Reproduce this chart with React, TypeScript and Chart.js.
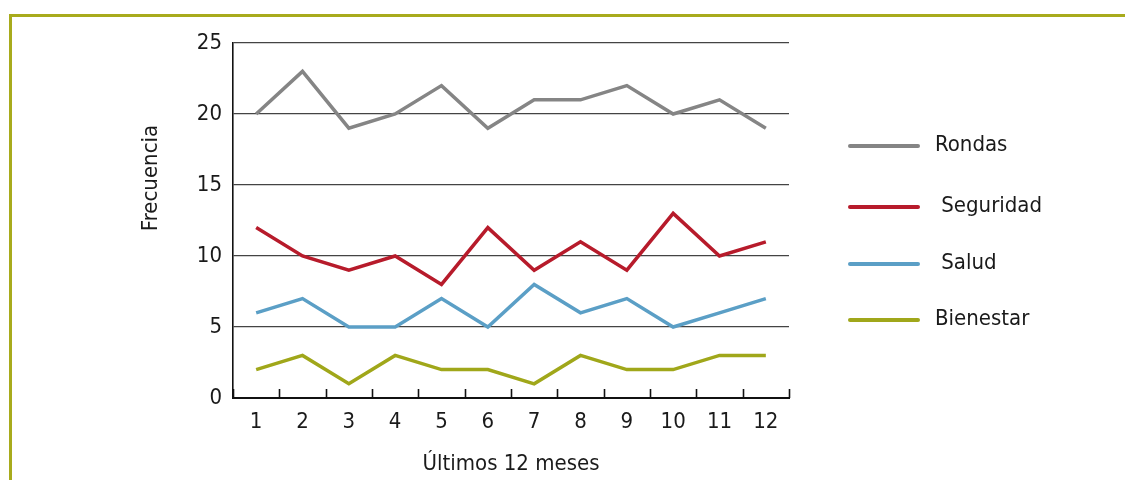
import React, { useEffect, useRef } from "react";
import { Chart, registerables } from "chart.js";

Chart.register(...registerables);

const categories = ["1", "2", "3", "4", "5", "6", "7", "8", "9", "10", "11", "12"];
const seriesNames = ["Rondas", " Seguridad", " Salud", "Bienestar"];
const rondas = [20, 23, 19, 20, 22, 19, 21, 21, 22, 20, 21, 19];
const seguridad = [12, 10, 9, 10, 8, 12, 9, 11, 9, 13, 10, 11];
const salud = [6, 7, 5, 5, 7, 5, 8, 6, 7, 5, 6, 7];
const bienestar = [2, 3, 1, 3, 2, 2, 1, 3, 2, 2, 3, 3];
const seriesColors = ["#858585", "#b71b2b", "#5b9fc6", "#a0a71a"];
const yTicks = [0, 5, 10, 15, 20, 25];
const xTitle = "Últimos 12 meses";
const yTitle = "Frecuencia";

const FONT = '"Liberation Sans Narrow", "DejaVu Sans Condensed", "Roboto Condensed", Roboto, sans-serif';
const TEXT = "#1a1a1a";
const FS = 22;

const decorPlugin = {
  id: "decor",
  beforeDraw(chart: any) {
    const { ctx } = chart;
    ctx.save();
    ctx.fillStyle = "#ffffff";
    ctx.fillRect(0, 0, chart.width, chart.height);
    ctx.fillStyle = "#a8ab1c";
    ctx.fillRect(9, 14, chart.width - 9, 3);
    ctx.fillRect(9, 14, 3, chart.height - 14);
    ctx.restore();
  },
  afterDraw(chart: any) {
    const { ctx, chartArea } = chart;
    const xs = chart.scales.x;
    ctx.save();
    // upward tick marks between categories
    ctx.strokeStyle = "#111111";
    ctx.lineWidth = 1.6;
    for (let i = 0; i <= categories.length; i++) {
      const px = Math.round(xs.getPixelForValue(i - 0.5)) + 0.5;
      ctx.beginPath();
      ctx.moveTo(px, chartArea.bottom);
      ctx.lineTo(px, chartArea.bottom - 9);
      ctx.stroke();
    }
    // y title
    ctx.fillStyle = TEXT;
    ctx.font = `${FS}px ${FONT}`;
    ctx.textAlign = "center";
    ctx.textBaseline = "middle";
    ctx.translate(chartArea.left - 82, chartArea.top + 135);
    ctx.rotate(-Math.PI / 2);
    ctx.fillText(yTitle, 0, 0);
    ctx.restore();

    // legend
    ctx.save();
    ctx.font = `${FS}px ${FONT}`;
    ctx.textAlign = "left";
    ctx.textBaseline = "middle";
    const rowOffsets = [103, 164, 221, 277];
    chart.data.datasets.forEach((ds: any, i: number) => {
      const y = chartArea.top + rowOffsets[i];
      const x0 = chartArea.right + 61;
      ctx.strokeStyle = ds.borderColor;
      ctx.lineWidth = 4;
      ctx.lineCap = "round";
      ctx.beginPath();
      ctx.moveTo(x0, y);
      ctx.lineTo(x0 + 68, y);
      ctx.stroke();
      ctx.fillStyle = TEXT;
      ctx.fillText(ds.label, x0 + 85, y - 1);
    });
    ctx.restore();
  },
};

export default function App() {
  const ref = useRef<HTMLCanvasElement | null>(null);
  useEffect(() => {
    if (!ref.current) return;
    const values = [rondas, seguridad, salud, bienestar];
    const chart = new Chart(ref.current, {
      type: "line",
      data: {
        labels: categories,
        datasets: values.map((v, i) => ({
          label: seriesNames[i],
          data: v,
          borderColor: seriesColors[i],
          backgroundColor: seriesColors[i],
          borderWidth: 3.5,
          pointRadius: 0,
          tension: 0,
          fill: false,
        })),
      },
      options: {
        animation: false,
        responsive: false,
        layout: { padding: { left: 0, top: 43, right: 336, bottom: 0 } },
        plugins: { legend: { display: false }, tooltip: { enabled: false } },
        scales: {
          x: {
            type: "category",
            offset: true,
            grid: { display: false, drawTicks: false },
            border: { display: true, color: "#111111", width: 2 },
            ticks: { color: TEXT, font: { family: FONT, size: FS }, padding: 11, maxRotation: 0 },
            title: {
              display: true,
              text: xTitle,
              color: TEXT,
              font: { family: FONT, size: FS },
              padding: { top: 4, bottom: 3 },
            },
            afterFit: (s: any) => {
              s.height = 82;
            },
          },
          y: {
            min: 0,
            max: 25,
            afterBuildTicks: (s: any) => {
              s.ticks = yTicks.map((v) => ({ value: v }));
            },
            grid: { color: "#444444", lineWidth: 1.3, drawTicks: false },
            border: { display: true, color: "#111111", width: 1.6 },
            ticks: { color: TEXT, font: { family: FONT, size: FS }, padding: 11 },
            afterFit: (s: any) => {
              s.width = 233;
            },
          },
        },
      },
      plugins: [decorPlugin],
    });
    return () => chart.destroy();
  }, []);
  return (
    <div style={{ position: "fixed", left: 0, top: 0, width: 1125, height: 480 }}>
      <canvas ref={ref} width={1125} height={480} style={{ width: 1125, height: 480, display: "block" }} />
    </div>
  );
}
